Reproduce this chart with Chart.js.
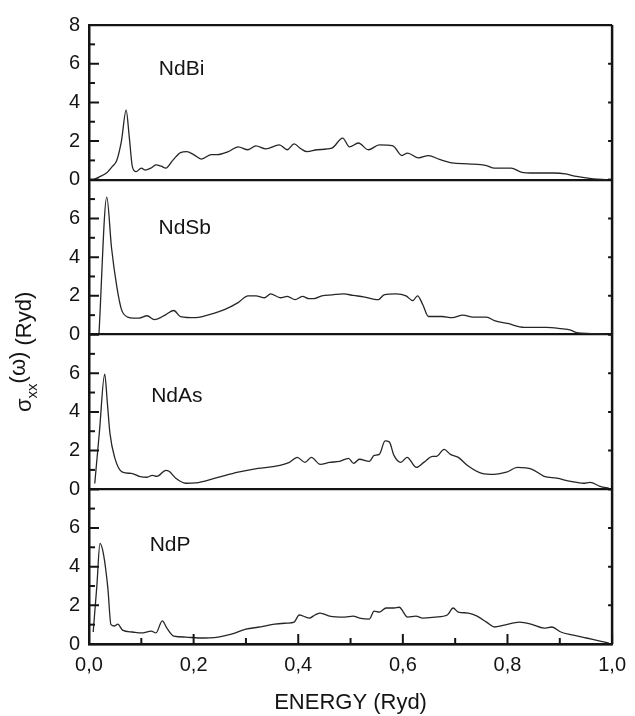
<!DOCTYPE html>
<html>
<head>
<meta charset="utf-8">
<script src="https://cdn.jsdelivr.net/npm/chart.js@4.4.1/dist/chart.umd.min.js"></script>
<style>
  html, body { margin: 0; padding: 0; background: #fff; }
  #wrap { position: relative; width: 635px; height: 716px; }
</style>
</head>
<body>
<div id="wrap"><canvas id="c"></canvas></div>
<script>
// 4段の σxx(ω) スペクトル。値は元図から目で読み取ったもの。

const energyBi = [0.008, 0.02, 0.034, 0.045, 0.053, 0.062, 0.071, 0.077, 0.083, 0.09, 0.1, 0.107, 0.118, 0.128, 0.138, 0.147, 0.16, 0.175, 0.187, 0.2, 0.215, 0.234, 0.245, 0.266, 0.285, 0.304, 0.319, 0.338, 0.364, 0.379, 0.392, 0.405, 0.417, 0.436, 0.464, 0.485, 0.498, 0.515, 0.534, 0.555, 0.581, 0.598, 0.609, 0.63, 0.649, 0.67, 0.694, 0.725, 0.76, 0.775, 0.807, 0.826, 0.851, 0.889, 0.911, 0.932, 0.964, 0.99];
const sigmaBi = [0, 0.15, 0.36, 0.7, 1.0, 2.0, 3.6, 2.2, 0.67, 0.42, 0.6, 0.5, 0.6, 0.77, 0.7, 0.6, 1.0, 1.4, 1.45, 1.3, 1.07, 1.3, 1.3, 1.45, 1.7, 1.55, 1.75, 1.6, 1.8, 1.55, 1.85, 1.6, 1.45, 1.55, 1.63, 2.15, 1.7, 1.9, 1.55, 1.8, 1.75, 1.25, 1.38, 1.13, 1.25, 1.05, 0.87, 0.82, 0.73, 0.6, 0.6, 0.4, 0.35, 0.35, 0.3, 0.17, 0.05, 0];

const energySb = [0.019, 0.034, 0.043, 0.053, 0.062, 0.074, 0.085, 0.096, 0.111, 0.125, 0.147, 0.162, 0.175, 0.204, 0.22, 0.24, 0.26, 0.285, 0.304, 0.319, 0.336, 0.347, 0.366, 0.379, 0.394, 0.408, 0.421, 0.43, 0.445, 0.465, 0.487, 0.505, 0.525, 0.553, 0.564, 0.587, 0.606, 0.619, 0.628, 0.638, 0.649, 0.675, 0.694, 0.715, 0.734, 0.76, 0.775, 0.8, 0.832, 0.874, 0.902, 0.921, 0.932, 0.96, 0.99];
const sigmaSb = [0, 7.1, 4.5, 2.5, 1.3, 0.9, 0.85, 0.85, 0.97, 0.77, 1.03, 1.24, 0.93, 0.87, 0.95, 1.1, 1.3, 1.65, 2.0, 2.0, 1.9, 2.1, 1.9, 1.97, 1.8, 1.97, 1.85, 1.85, 2.0, 2.05, 2.1, 2.02, 1.95, 1.8, 2.05, 2.1, 2.0, 1.75, 2.0, 1.55, 0.93, 0.93, 0.87, 1.0, 0.9, 0.9, 0.72, 0.57, 0.37, 0.37, 0.3, 0.22, 0.1, 0.05, 0];

const energyAs = [0.011, 0.02, 0.03, 0.035, 0.04, 0.049, 0.064, 0.081, 0.096, 0.111, 0.121, 0.13, 0.147, 0.153, 0.166, 0.185, 0.204, 0.241, 0.285, 0.323, 0.355, 0.383, 0.398, 0.413, 0.425, 0.442, 0.46, 0.479, 0.496, 0.506, 0.517, 0.536, 0.545, 0.555, 0.566, 0.574, 0.583, 0.596, 0.608, 0.626, 0.64, 0.657, 0.664, 0.679, 0.691, 0.706, 0.723, 0.751, 0.775, 0.798, 0.819, 0.847, 0.87, 0.894, 0.921, 0.945, 0.958, 0.977, 0.994];
const sigmaAs = [0.3, 3.0, 5.95, 4.5, 2.9, 1.65, 0.88, 0.82, 0.67, 0.62, 0.72, 0.67, 0.98, 0.93, 0.57, 0.31, 0.33, 0.57, 0.88, 1.08, 1.18, 1.39, 1.65, 1.39, 1.65, 1.29, 1.39, 1.44, 1.6, 1.34, 1.55, 1.44, 1.75, 1.8, 2.5, 2.45, 1.75, 1.39, 1.65, 1.13, 1.39, 1.7, 1.7, 2.06, 1.8, 1.65, 1.24, 0.82, 0.77, 0.88, 1.13, 1.03, 0.67, 0.57, 0.41, 0.31, 0.36, 0.15, 0.05];

const energyP = [0.008, 0.015, 0.021, 0.028, 0.036, 0.042, 0.049, 0.055, 0.064, 0.083, 0.1, 0.119, 0.128, 0.14, 0.149, 0.162, 0.185, 0.209, 0.247, 0.272, 0.3, 0.328, 0.355, 0.379, 0.392, 0.402, 0.421, 0.432, 0.442, 0.46, 0.489, 0.505, 0.517, 0.536, 0.545, 0.555, 0.568, 0.583, 0.593, 0.609, 0.625, 0.638, 0.662, 0.685, 0.696, 0.706, 0.725, 0.742, 0.76, 0.775, 0.794, 0.823, 0.845, 0.87, 0.885, 0.902, 0.926, 0.951, 0.977, 0.994];
const sigmaP = [0.62, 3.0, 5.2, 4.6, 2.9, 1.0, 0.93, 1.03, 0.72, 0.62, 0.57, 0.67, 0.57, 1.2, 0.82, 0.41, 0.36, 0.31, 0.36, 0.51, 0.77, 0.88, 1.03, 1.08, 1.13, 1.5, 1.34, 1.5, 1.6, 1.44, 1.39, 1.44, 1.34, 1.29, 1.7, 1.65, 1.86, 1.86, 1.9, 1.39, 1.44, 1.34, 1.39, 1.5, 1.86, 1.65, 1.6, 1.44, 1.13, 0.88, 0.98, 1.13, 1.03, 0.82, 0.88, 0.62, 0.46, 0.31, 0.15, 0.05];

const compounds = ["NdBi", "NdSb", "NdAs", "NdP"];
const yTickLabels = [0, 2, 4, 6, 8];
const xTickLabels = [0, 0.2, 0.4, 0.6, 0.8, 1.0];

// パネル内ラベルの位置（データ座標）
const labelPos = [[0.177, 5.7], [0.183, 5.5], [0.168, 4.8], [0.155, 5.1]];

const FONT = "'Liberation Sans', Arial, sans-serif";
const INK = "#141414";

const series = [
  [energyBi, sigmaBi],
  [energySb, sigmaSb],
  [energyAs, sigmaAs],
  [energyP, sigmaP],
];

function yScale(i) {
  return {
    type: "linear",
    position: "left",
    stack: "panels",
    stackWeight: 1,
    min: 0,
    max: 8,
    afterFit: (s) => { s.width = 89; },
    afterBuildTicks: (s) => { s.ticks = yTickLabels.map((v) => ({ value: v })); },
    ticks: {
      color: INK,
      padding: 9,
      autoSkip: false,
      font: { family: FONT, size: 20 },
      callback: (v) => (v === 8 && i > 0 ? "" : String(v)),
    },
    grid: {
      drawTicks: false,
      color: (ctx) => (ctx.tick && (ctx.tick.value === 0 || (i === 0 && ctx.tick.value === 8)) ? INK : "rgba(0,0,0,0)"),
      lineWidth: (ctx) => (ctx.tick && (ctx.tick.value === 0 || (i === 0 && ctx.tick.value === 8)) ? 2.2 : 0),
    },
    border: { display: true, color: INK, width: 2.5 },
  };
}

const decor = {
  id: "decor",
  afterDraw(chart) {
    const { ctx, chartArea: a } = chart;
    const xs = chart.scales.x;
    ctx.save();
    ctx.strokeStyle = INK;

    // 右枠
    ctx.lineWidth = 2.5;
    ctx.beginPath();
    ctx.moveTo(a.right, a.top);
    ctx.lineTo(a.right, a.bottom);
    ctx.stroke();

    // 内向きの目盛り
    compounds.forEach((_, i) => {
      const ys = chart.scales["y" + i];
      for (let v = 0; v <= 8; v++) {
        const py = ys.getPixelForValue(v);
        const major = v % 2 === 0;
        ctx.lineWidth = 2;
        ctx.beginPath();
        ctx.moveTo(a.left, py);
        ctx.lineTo(a.left + (major ? 10 : 6), py);
        if (major) {
          ctx.moveTo(a.right, py);
          ctx.lineTo(a.right - 4, py);
        }
        ctx.stroke();
      }
    });
    for (let k = 0; k <= 10; k++) {
      const px = xs.getPixelForValue(k / 10);
      const major = k % 2 === 0;
      ctx.lineWidth = 2;
      ctx.beginPath();
      ctx.moveTo(px, a.bottom);
      ctx.lineTo(px, a.bottom - (major ? 10 : 6));
      ctx.stroke();
    }

    // パネル名
    ctx.fillStyle = INK;
    ctx.font = `21px ${FONT}`;
    ctx.textAlign = "center";
    ctx.textBaseline = "middle";
    compounds.forEach((name, i) => {
      const ys = chart.scales["y" + i];
      ctx.fillText(name, xs.getPixelForValue(labelPos[i][0]), ys.getPixelForValue(labelPos[i][1]));
    });

    // 縦軸タイトル σxx(ω) (Ryd)
    ctx.translate(31, 412);
    ctx.rotate(-Math.PI / 2);
    ctx.textAlign = "left";
    ctx.textBaseline = "alphabetic";
    let x = 0;
    ctx.font = `22px ${FONT}`;
    ctx.fillText("σ", x, 0);
    x += ctx.measureText("σ").width;
    ctx.font = `15px ${FONT}`;
    ctx.fillText("xx", x, 6);
    x += ctx.measureText("xx").width;
    ctx.font = `22px ${FONT}`;
    ctx.fillText("(ω)", x, -6);
    x += ctx.measureText("(ω) ").width;
    ctx.fillText("(Ryd)", x, 0);
    ctx.restore();
  },
};

const scales = {
  x: {
    type: "linear",
    position: "bottom",
    min: 0,
    max: 1,
    afterFit: (s) => { s.height = 72; },
    afterBuildTicks: (s) => { s.ticks = xTickLabels.map((v) => ({ value: v })); },
    ticks: {
      color: INK,
      padding: 9,
      autoSkip: false,
      font: { family: FONT, size: 20 },
      callback: (v) => Number(v).toFixed(1).replace(".", ","),
    },
    grid: { display: false, drawTicks: false },
    border: { display: true, color: INK, width: 2.5 },
    title: {
      display: true,
      text: "ENERGY (Ryd)",
      color: INK,
      font: { family: FONT, size: 22 },
      padding: { top: 0, bottom: 0 },
    },
  },
};
// 積み重ねた軸は後に定義したものが上に来るので、下のパネルから順に登録する
for (let i = compounds.length - 1; i >= 0; i--) scales["y" + i] = yScale(i);

new Chart(document.getElementById("c"), {
  type: "line",
  data: {
    datasets: series.map(([ex, sy], i) => ({
      label: compounds[i],
      yAxisID: "y" + i,
      data: ex.map((e, k) => ({ x: e, y: sy[k] })),
      borderColor: "#262626",
      borderWidth: 1.3,
      pointRadius: 0,
      cubicInterpolationMode: "monotone",
      fill: false,
    })),
  },
  options: {
    responsive: true,
    maintainAspectRatio: false,
    animation: false,
    layout: { padding: { top: 25, right: 16, left: 0, bottom: 0 } },
    plugins: { legend: { display: false }, tooltip: { enabled: false } },
    scales,
  },
  plugins: [decor],
});
</script>
</body>
</html>
